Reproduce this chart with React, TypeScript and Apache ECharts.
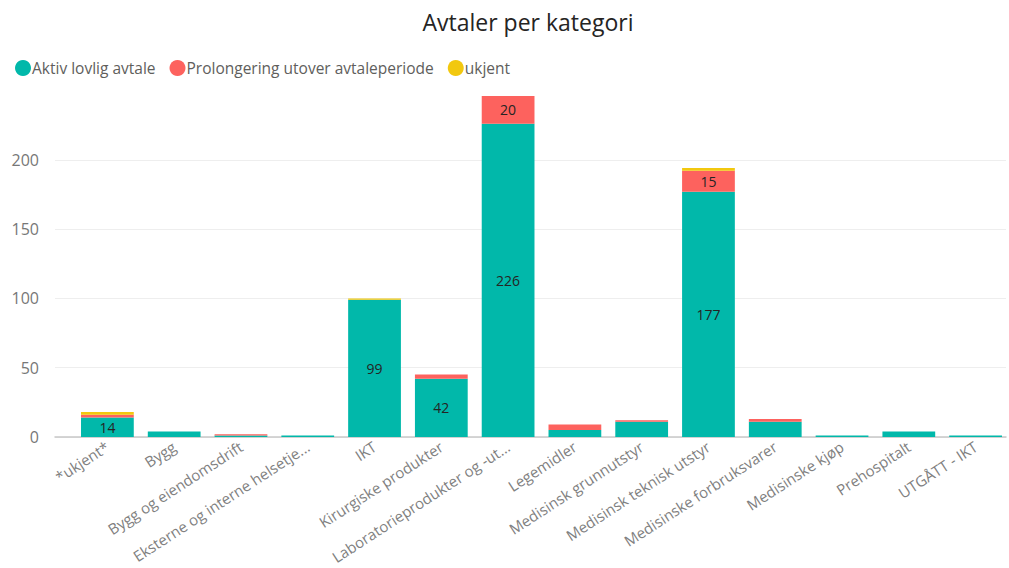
import React, { useEffect, useRef } from "react";
import * as echarts from "echarts";

const categories = [
  "*ukjent*",
  "Bygg",
  "Bygg og eiendomsdrift",
  "Eksterne og interne helsetje...",
  "IKT",
  "Kirurgiske produkter",
  "Laboratorieprodukter og -ut...",
  "Legemidler",
  "Medisinsk grunnutstyr",
  "Medisinsk teknisk utstyr",
  "Medisinske forbruksvarer",
  "Medisinske kjøp",
  "Prehospitalt",
  "UTGÅTT - IKT",
];
const aktiv = [14, 4, 1, 1, 99, 42, 226, 5, 11, 177, 11, 1, 4, 1];
const prolongering = [2, 0, 1, 0, 0, 3, 20, 4, 1, 15, 2, 0, 0, 0];
const ukjent = [2, 0, 0, 0, 1, 0, 0, 0, 0, 2, 0, 0, 0, 0];
const yTicks = [0, 50, 100, 150, 200];
const yMax = 246;

const FONT = "'Open Sans', 'Noto Sans', sans-serif";

export default function App() {
  const ref = useRef<HTMLDivElement>(null);
  useEffect(() => {
    if (!ref.current) return;
    const chart = echarts.init(ref.current, null, { renderer: "svg" });
    const labelCfg = {
      show: true,
      position: "inside",
      color: "#252423",
      fontFamily: FONT,
      fontSize: 14,
      formatter: (p: any) => (p.value >= 14 ? String(p.value) : ""),
    };
    const mk = (name: string, data: number[], color: string) => ({
      name,
      type: "bar",
      stack: "total",
      xAxisIndex: 1,
      yAxisIndex: 1,
      data,
      barCategoryGap: "21%",
      itemStyle: { color },
      label: labelCfg,
    });
    chart.setOption({
      animation: false,
      title: {
        text: "Avtaler per kategori",
        left: 523,
        textAlign: "center",
        top: 5,
        textStyle: { fontFamily: FONT, fontSize: 23, fontWeight: "normal", color: "#252423" },
      },
      legend: {
        left: 10,
        top: 55,
        icon: "circle",
        itemWidth: 16,
        itemHeight: 16,
        itemGap: 14,
        textStyle: { fontFamily: FONT, fontSize: 15.5, color: "#605e5c", padding: [0, 0, 0, -4] },
        data: ["Aktiv lovlig avtale", "Prolongering utover avtaleperiode", "ukjent"],
      },
      grid: [
        { left: 55, right: 3, top: 96, bottom: 131 },
        { left: 74, right: -4, top: 96, bottom: 131 },
      ],
      xAxis: [
        {
          type: "category",
          gridIndex: 0,
          data: [""],
          axisLine: { show: true, lineStyle: { color: "#c8c8c8", width: 1.5 } },
          axisTick: { show: false },
          axisLabel: { show: false },
        },
        {
          type: "category",
          gridIndex: 1,
          data: categories,
          axisLine: { show: false },
          axisTick: { show: false },
          axisLabel: {
            rotate: 33,
            margin: 8,
            interval: 0,
            color: "#808080",
            fontFamily: FONT,
            fontSize: 15,
          },
        },
      ],
      yAxis: [
        {
          type: "value",
          gridIndex: 0,
          min: 0,
          max: yMax,
          interval: 50,
          axisLine: { show: false },
          axisTick: { show: false },
          splitLine: { show: true, showMaxLine: false, lineStyle: { color: "#eeeeee", width: 1 } },
          axisLabel: {
            margin: 16,
            color: "#777777",
            fontFamily: FONT,
            fontSize: 16,
            showMaxLabel: false,
            formatter: (v: number) => (yTicks.includes(v) ? String(v) : ""),
          },
        },
        {
          type: "value",
          gridIndex: 1,
          min: 0,
          max: yMax,
          show: false,
          splitLine: { show: false },
        },
      ],
      series: [
        mk("Aktiv lovlig avtale", aktiv, "#01B8AA"),
        mk("Prolongering utover avtaleperiode", prolongering, "#FD625E"),
        mk("ukjent", ukjent, "#F2C80F"),
      ],
    });
    return () => chart.dispose();
  }, []);
  return (
    <div
      ref={ref}
      style={{ position: "fixed", left: 0, top: 0, width: 1009, height: 568, background: "#fff" }}
    />
  );
}
